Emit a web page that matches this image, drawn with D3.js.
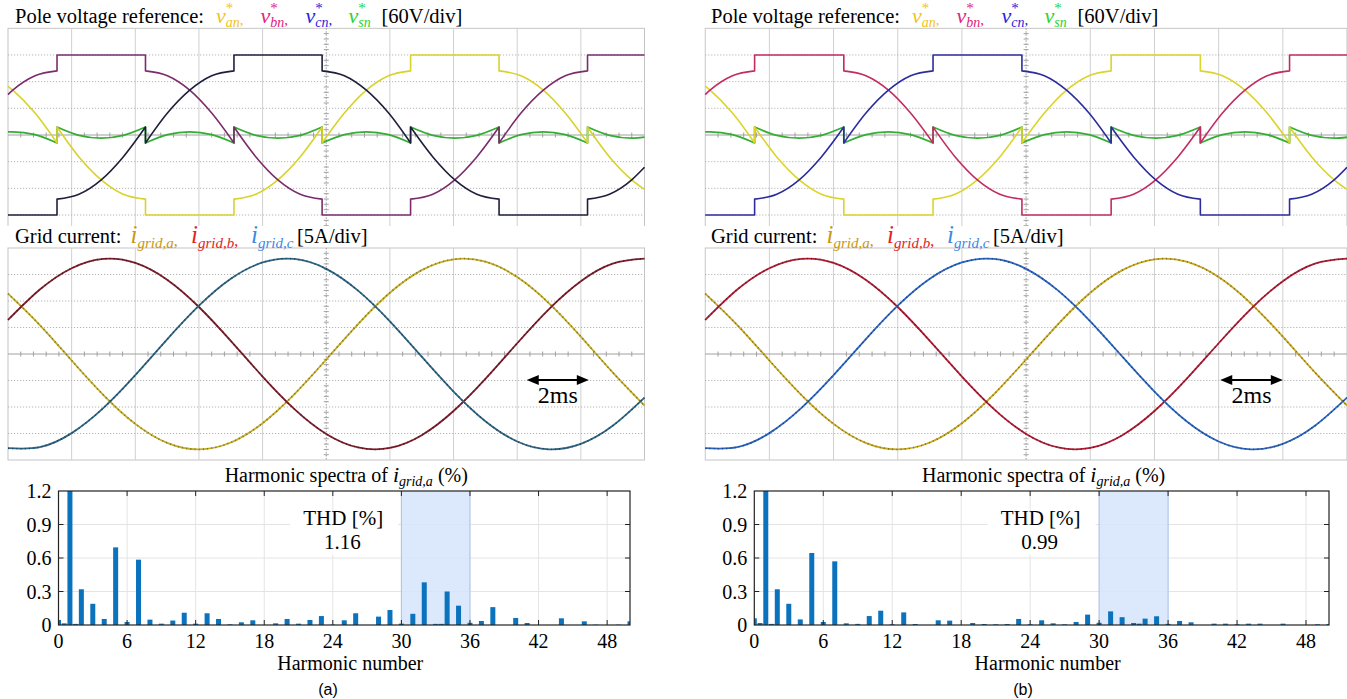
<!DOCTYPE html>
<html><head><meta charset="utf-8">
<script src="https://cdn.jsdelivr.net/npm/d3@7"></script>
<style>
body{margin:0;background:#fff}
svg{display:block}
text{font-family:"Liberation Serif","DejaVu Serif",serif}
text.sans{font-family:"Liberation Sans",Arial,sans-serif}
</style></head>
<body><svg id="c" width="1347" height="699"></svg>
<script>
// ---------------- DATA ----------------
// pole voltage references (V) sampled along time (ms); repeated times mark the clamp-switch jumps
const voltTimeMs = [0,0.15,0.85,1.54,1.54,2.23,2.93,3.62,4.32,4.32,5.01,5.71,6.40,7.10,7.10,7.79,8.48,9.18,9.87,9.87,10.57,11.26,11.96,12.65,12.65,13.35,14.04,14.73,15.43,15.43,16.12,16.82,17.51,18.21,18.21,18.90,19.60,20.0];
const vanRef = [109.7,100.8,49.3,-17.9,17.9,-49.3,-100.8,-133.2,-144.2,-180,-180,-180,-180,-180,-144.2,-133.2,-100.8,-49.3,17.9,-17.9,49.3,100.8,133.2,144.2,180,180,180,180,180,144.2,133.2,100.8,49.3,-17.9,17.9,-49.3,-100.8,-122.3];
const vbnRef = [91.0,100.8,133.2,144.2,180,180,180,180,180,144.2,133.2,100.8,49.3,-17.9,17.9,-49.3,-100.8,-133.2,-144.2,-180,-180,-180,-180,-180,-144.2,-133.2,-100.8,-49.3,17.9,-17.9,49.3,100.8,133.2,144.2,180,180,180,180];
const vcnRef = [-180,-180,-180,-180,-144.2,-133.2,-100.8,-49.3,17.9,-17.9,49.3,100.8,133.2,144.2,180,180,180,180,180,144.2,133.2,100.8,49.3,-17.9,17.9,-49.3,-100.8,-133.2,-144.2,-180,-180,-180,-180,-180,-144.2,-133.2,-100.8,-72.7];
const vsnRef = [6.9,7.2,0.8,-17.9,17.9,-0.8,-7.2,-0.8,17.9,-17.9,0.8,7.2,0.8,-17.9,17.9,-0.8,-7.2,-0.8,17.9,-17.9,0.8,7.2,0.8,-17.9,17.9,-0.8,-7.2,-0.8,17.9,-17.9,0.8,7.2,0.8,-17.9,17.9,-0.8,-7.2,-5.0];

// grid currents (A) every 1 ms
const currTimeMs = [0,1,2,3,4,5,6,7,8,9,10,11,12,13,14,15,16,17,18,19,20];
const iGridA = [11.40,5.47,-1.23,-7.75,-13.19,-16.77,-18.0,-16.70,-13.06,-7.58,-1.04,5.65,11.55,15.82,17.87,17.41,14.51,9.57,3.28,-3.47,-9.73];
const iGridB = [6.42,12.16,16.19,17.95,17.19,14.02,8.87,2.48,-4.26,-10.40,-15.08,-17.64,-17.73,-15.32,-10.76,-4.70,2.03,8.48,13.73,17.05,17.98];
const iGridC = [-17.77,-17.58,-14.93,-10.17,-3.99,2.76,9.11,14.19,17.27,17.93,16.07,11.95,6.16,-0.51,-7.09,-12.69,-16.50,-17.99,-16.96,-13.55,-8.23];

// harmonic spectra of i_grid,a (%), orders 0..50
const harmonicOrders = d3.range(0, 51);
const spectrumA = [0.045,100,0.32,0.19,0.054,0.695,0.027,0.585,0.048,0.012,0.04,0.11,0.012,0.105,0.054,0.006,0.024,0.042,0,0.015,0.054,0.012,0.045,0.08,0.003,0.042,0.105,0,0.075,0.134,0.012,0.1,0.382,0.01,0.3,0.173,0.02,0.036,0.16,0,0.063,0.018,0,0,0.06,0,0.033,0.003,0,0.003,0.033];
const spectrumB = [0.06,100,0.32,0.19,0.05,0.645,0.027,0.57,0.015,0.01,0.08,0.128,0.006,0.113,0.009,0,0.042,0.039,0,0.018,0.009,0.006,0.009,0.054,0.006,0.042,0.015,0.006,0.027,0.093,0.02,0.122,0.07,0.018,0.057,0.078,0.01,0.036,0.024,0,0.012,0.012,0.006,0.012,0.012,0,0.012,0,0,0.006,0.009];
const interOrders = [0.5, 1.5, 33.5];
const interA = [0.015, 0.01, 0.01];
const interB = [0.018, 0.01, 0.012];

const xTickValues = [0,6,12,18,24,30,36,42,48];
const yTickValues = [0,0.3,0.6,0.9,1.2];
const yTickLabels = ["0","0.3","0.6","0.9","1.2"];
const highlightBand = [30,36];
const thdValues = ["1.16","0.99"];
const panelLabels = ["(a)","(b)"];

// ---------------- LAYOUT ----------------
const svg = d3.select("#c");
const panels = [
  {sx0:8, sx1:644.5, tx:15, hx0:58.5, hx1:630, arrow:[16.3,18.25],
   spec:spectrumA, inter:interA, thd:thdValues[0], label:panelLabels[0], labelX:328,
   vcol:{a:"#d8d22c", b:"#7c2c6c", c:"#1f1f3c", s:"#33ad33"},
   icol:{a:"#c4ae24", b:"#7c1e2c", c:"#2e6684"}},
  {sx0:705.2, sx1:1347, tx:711, hx0:754.3, hx1:1329, arrow:[16.05,18.0],
   spec:spectrumB, inter:interB, thd:thdValues[1], label:panelLabels[1], labelX:1023,
   vcol:{a:"#dcd42a", b:"#c22c62", c:"#2c2c9e", s:"#33b033"},
   icol:{a:"#c8a81c", b:"#b01c34", c:"#2a66c2"}}
];
const VT = {top:28.3, bottom:241.7, clip:226};
const IT = {top:248, bottom:460};
const HY = {top:491, bottom:625};

const defs = svg.append("defs");

function tracePath(ts, vs, xs, ys){
  const pts = ts.map((t,i)=>[xs(t), ys(vs[i])]);
  const runs=[]; let cur=[pts[0]];
  for(let i=1;i<pts.length;i++){
    if(ts[i]===ts[i-1]){runs.push(cur);cur=[pts[i]];} else cur.push(pts[i]);
  }
  runs.push(cur);
  const line=d3.line().curve(d3.curveMonotoneX);
  return runs.map((r,k)=>{const s=line(r); return k? s.replace(/^M/,"L"): s;}).join("");
}

function drawScreen(g, x0, x1, y0, y1){
  const dx=(x1-x0)/10, dy=(y1-y0)/8;
  g.append("rect").attr("x",x0).attr("y",y0).attr("width",x1-x0).attr("height",y1-y0)
    .attr("fill","#fff").attr("stroke","#c4c4c4").attr("stroke-width",1);
  for(let i=1;i<10;i++){
    g.append("line").attr("x1",x0+i*dx).attr("x2",x0+i*dx).attr("y1",y0).attr("y2",y1)
      .attr("stroke", i===5?"#9a9a9a":"#d0d0d0").attr("stroke-width",1)
      .attr("stroke-dasharray", i===5?"1.5,1.5":null);
  }
  for(let j=1;j<8;j++){
    g.append("line").attr("x1",x0).attr("x2",x1).attr("y1",y0+j*dy).attr("y2",y0+j*dy)
      .attr("stroke", j===4?"#a0a0a0":"#b4b4b4").attr("stroke-width",1)
      .attr("stroke-dasharray", j===4?null:"1.2,1.8");
  }
  const cx=x0+5*dx, cy=y0+4*dy;
  for(let k=1;k<50;k++){ if(k%5===0) continue;
    g.append("line").attr("x1",x0+k*dx/5).attr("x2",x0+k*dx/5).attr("y1",cy-2.5).attr("y2",cy+2.5).attr("stroke","#a0a0a0");
  }
  for(let k=1;k<40;k++){ if(k%5===0) continue;
    g.append("line").attr("y1",y0+k*dy/5).attr("y2",y0+k*dy/5).attr("x1",cx-2.5).attr("x2",cx+2.5).attr("stroke","#a0a0a0");
  }
}

function txt(g){ return g.append("text"); }

function rich(g, x, y, pieces){
  let cx=x;
  pieces.forEach(p=>{
    const t=txt(g).attr("x",cx).attr("y",y+(p.dy||0)).text(p.t)
      .attr("font-size",p.size).attr("font-style",p.it?"italic":"normal")
      .attr("fill",p.c||"#000");
    if(!p.stay) cx+=t.node().getComputedTextLength();
  });
  return cx;
}
function symV(g,x,y,sub,col,comma){
  rich(g,x,y,[{t:"v",size:22,it:true,c:col},{t:"*",size:15,dy:-10,c:col,stay:true},{t:sub,size:14,it:true,dy:4,c:col},{t:comma?",":"",size:15,dy:2,c:col}]);
}
function symI(g,x,y,sub,col,comma){
  rich(g,x,y,[{t:"i",size:25,it:true,c:col},{t:sub,size:15,it:true,dy:5,c:col},{t:comma?",":"",size:16,dy:3,c:col}]);
}

panels.forEach((P,pi)=>{
  const g=svg.append("g");
  const xT=d3.scaleLinear().domain([0,20]).range([P.sx0,P.sx1]);

  // ----- top screen: pole voltage references -----
  const clipV="clipV"+pi;
  defs.append("clipPath").attr("id",clipV).append("rect")
    .attr("x",P.sx0-1).attr("y",VT.top-1).attr("width",P.sx1-P.sx0+2).attr("height",VT.clip-VT.top+1);
  const gv=g.append("g").attr("clip-path",`url(#${clipV})`);
  drawScreen(gv,P.sx0,P.sx1,VT.top,VT.bottom);
  const yV=d3.scaleLinear().domain([-240,240]).range([VT.bottom,VT.top]);
  [[vsnRef,P.vcol.s,1.8],[vanRef,P.vcol.a,1.6],[vbnRef,P.vcol.b,1.6],[vcnRef,P.vcol.c,1.6]].forEach(([vals,col,w])=>{
    gv.append("path").attr("d",tracePath(voltTimeMs,vals,xT,yV)).attr("fill","none")
      .attr("stroke",col).attr("stroke-width",w).attr("stroke-linejoin","round");
  });

  const ty=23;
  txt(g).attr("x",P.tx).attr("y",ty).text("Pole voltage reference:").attr("font-size",20.5);
  symV(g,P.tx+201,ty,"an","#f0c419",true);
  symV(g,P.tx+245.6,ty,"bn","#e0247c",true);
  symV(g,P.tx+290.5,ty,"cn","#2424e0",true);
  symV(g,P.tx+333.6,ty,"sn","#2ad42a",false);
  txt(g).attr("x",P.tx+366.5).attr("y",ty).text("[60V/div]").attr("font-size",20.5);

  // ----- current screen -----
  const clipI="clipI"+pi;
  defs.append("clipPath").attr("id",clipI).append("rect")
    .attr("x",P.sx0-1).attr("y",IT.top-1).attr("width",P.sx1-P.sx0+2).attr("height",IT.bottom-IT.top+2);
  const gi=g.append("g").attr("clip-path",`url(#${clipI})`);
  drawScreen(gi,P.sx0,P.sx1,IT.top,IT.bottom);
  const yI=d3.scaleLinear().domain([-20,20]).range([IT.bottom,IT.top]);
  const iline=d3.line().x((d,i)=>xT(currTimeMs[i])).y(d=>yI(d)).curve(d3.curveNatural);
  [[iGridA,P.icol.a],[iGridB,P.icol.b],[iGridC,P.icol.c]].forEach(([vals,col])=>{
    gi.append("path").attr("d",iline(vals)).attr("fill","none").attr("stroke",col).attr("stroke-width",1.8);
    gi.append("path").attr("d",iline(vals)).attr("fill","none").attr("stroke","#000").attr("stroke-opacity",0.35)
      .attr("stroke-width",1.9).attr("stroke-dasharray","1,3.2");
  });
  const ay=380, ax0=xT(P.arrow[0]), ax1=xT(P.arrow[1]);
  gi.append("line").attr("x1",ax0+8).attr("x2",ax1-8).attr("y1",ay).attr("y2",ay).attr("stroke","#000").attr("stroke-width",2);
  gi.append("path").attr("d",`M${ax0},${ay}L${ax0+12},${ay-5}L${ax0+12},${ay+5}Z`).attr("fill","#000");
  gi.append("path").attr("d",`M${ax1},${ay}L${ax1-12},${ay-5}L${ax1-12},${ay+5}Z`).attr("fill","#000");
  txt(gi).attr("x",(ax0+ax1)/2).attr("y",403).attr("text-anchor","middle").text("2ms").attr("font-size",24);

  const iy=243;
  txt(g).attr("x",P.tx).attr("y",iy).text("Grid current:").attr("font-size",20.5);
  symI(g,P.tx+115.5,iy,"grid,a","#c9980e",true);
  symI(g,P.tx+176,iy,"grid,b","#e82020",true);
  symI(g,P.tx+236,iy,"grid,c","#3a8ae8",false);
  txt(g).attr("x",P.tx+282).attr("y",iy).text("[5A/div]").attr("font-size",20.5);

  // ----- harmonic spectrum -----
  const xH=d3.scaleLinear().domain([0,50]).range([P.hx0,P.hx1]);
  const yH=d3.scaleLinear().domain([0,1.2]).range([HY.bottom,HY.top]);
  const gh=g.append("g");
  const clipH="clipH"+pi;
  defs.append("clipPath").attr("id",clipH).append("rect")
    .attr("x",P.hx0).attr("y",HY.top).attr("width",P.hx1-P.hx0).attr("height",HY.bottom-HY.top);
  xTickValues.slice(1).forEach(v=>gh.append("line").attr("x1",xH(v)).attr("x2",xH(v)).attr("y1",HY.top).attr("y2",HY.bottom).attr("stroke","#e4e4e4"));
  yTickValues.slice(1,4).forEach(v=>gh.append("line").attr("y1",yH(v)).attr("y2",yH(v)).attr("x1",P.hx0).attr("x2",P.hx1).attr("stroke","#e4e4e4"));
  gh.append("rect").attr("x",xH(highlightBand[0])).attr("y",HY.top).attr("width",xH(highlightBand[1])-xH(highlightBand[0]))
    .attr("height",HY.bottom-HY.top).attr("fill","#d6e4fa").attr("fill-opacity",0.85);
  highlightBand.forEach(v=>gh.append("line").attr("x1",xH(v)).attr("x2",xH(v)).attr("y1",HY.top).attr("y2",HY.bottom).attr("stroke","#aac3ec"));
  const cxH=xH(25);
  gh.append("rect").attr("x",cxH-54).attr("y",yH(1.0)).attr("width",108).attr("height",yH(0.63)-yH(1.0)).attr("fill","#fff");
  txt(gh).attr("x",cxH-1).attr("y",525).attr("text-anchor","middle").text("THD [%]").attr("font-size",21);
  txt(gh).attr("x",cxH-2).attr("y",549).attr("text-anchor","middle").text(P.thd).attr("font-size",21);
  const bw=5;
  const gb=gh.append("g").attr("clip-path",`url(#${clipH})`);
  gb.selectAll("rect.h").data(harmonicOrders).join("rect")
    .attr("x",d=>xH(d)-bw/2).attr("width",bw)
    .attr("y",(d,i)=>yH(Math.min(P.spec[i],1.3))).attr("height",(d,i)=>yH(0)-yH(Math.min(P.spec[i],1.3)))
    .attr("fill","#0b72bd");
  gb.selectAll("rect.ih").data(interOrders).join("rect")
    .attr("x",d=>xH(d)-bw/2).attr("width",bw)
    .attr("y",(d,i)=>yH(P.inter[i])).attr("height",(d,i)=>yH(0)-yH(P.inter[i]))
    .attr("fill","#0b72bd");
  gh.append("rect").attr("x",P.hx0).attr("y",HY.top).attr("width",P.hx1-P.hx0).attr("height",HY.bottom-HY.top)
    .attr("fill","none").attr("stroke","#222").attr("stroke-width",1.2);
  xTickValues.slice(1).forEach(v=>{
    gh.append("line").attr("x1",xH(v)).attr("x2",xH(v)).attr("y1",HY.bottom).attr("y2",HY.bottom-5).attr("stroke","#222");
    gh.append("line").attr("x1",xH(v)).attr("x2",xH(v)).attr("y1",HY.top).attr("y2",HY.top+5).attr("stroke","#222");
  });
  yTickValues.slice(1,4).forEach(v=>{
    gh.append("line").attr("x1",P.hx0).attr("x2",P.hx0+5).attr("y1",yH(v)).attr("y2",yH(v)).attr("stroke","#222");
    gh.append("line").attr("x1",P.hx1).attr("x2",P.hx1-5).attr("y1",yH(v)).attr("y2",yH(v)).attr("stroke","#222");
  });
  xTickValues.forEach(v=>txt(gh).attr("x",xH(v)).attr("y",648).attr("text-anchor","middle").text(v).attr("font-size",20));
  yTickValues.forEach((v,i)=>txt(gh).attr("x",P.hx0-7).attr("y",yH(v)+7).attr("text-anchor","end").text(yTickLabels[i]).attr("font-size",20));
  txt(gh).attr("x",cxH+6).attr("y",670).attr("text-anchor","middle").text("Harmonic number").attr("font-size",20);
  const gt=gh.append("g");
  const end=rich(gt,0,482,[{t:"Harmonic spectra of\u00A0",size:20},{t:"i",size:22,it:true},{t:"grid,a",size:14,it:true,dy:4},{t:"\u00A0(%)",size:20}]);
  gt.attr("transform",`translate(${cxH+2-end/2},0)`);
  g.append("text").attr("class","sans").attr("x",P.labelX).attr("y",695).attr("text-anchor","middle").text(P.label)
    .attr("font-size",16);
});
</script></body></html>
